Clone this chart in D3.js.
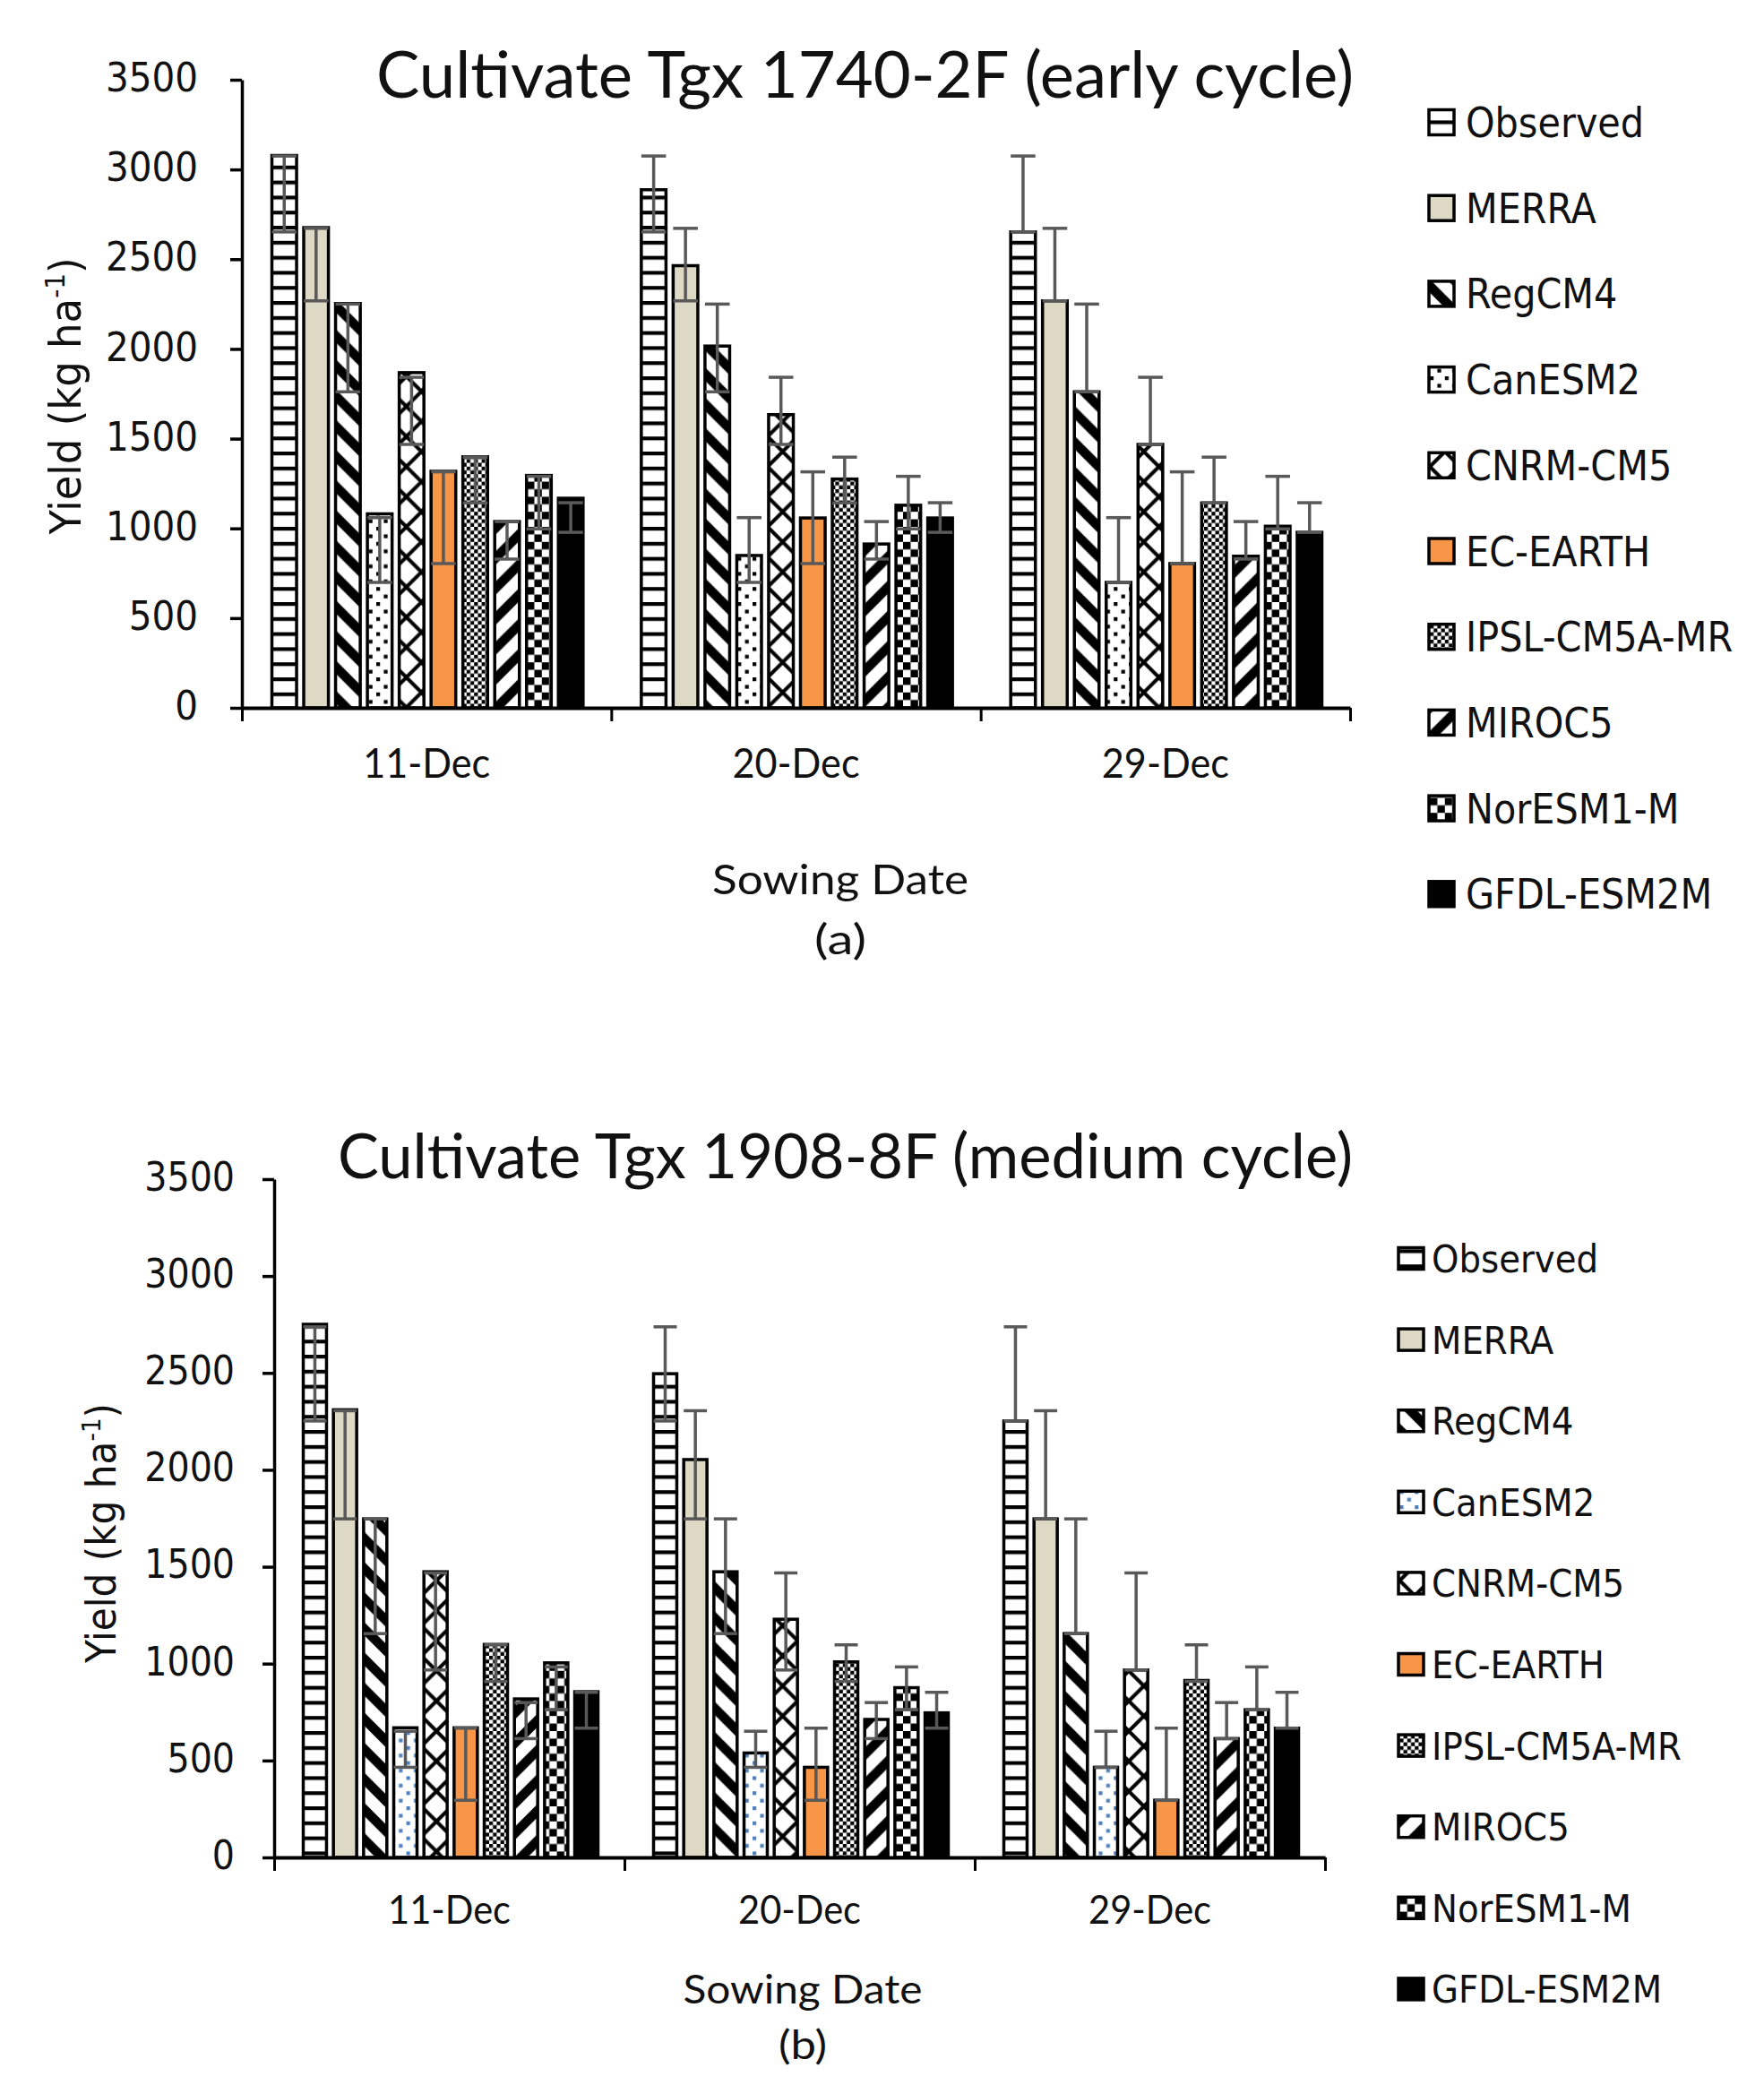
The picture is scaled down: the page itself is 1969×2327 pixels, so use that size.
<!DOCTYPE html>
<html><head><meta charset="utf-8">
<script src="https://cdn.jsdelivr.net/npm/d3@7/dist/d3.min.js"></script>
<style>body{margin:0;background:#fff}svg{display:block}</style>
</head><body>
<svg id="c" width="1969" height="2327"></svg>
<script>
// ---------------- DATA ----------------
const dates = ["11-Dec", "20-Dec", "29-Dec"];
const models = ["Observed", "MERRA", "RegCM4", "CanESM2", "CNRM-CM5", "EC-EARTH", "IPSL-CM5A-MR", "MIROC5", "NorESM1-M", "GFDL-ESM2M"];
const yTicks = [0, 500, 1000, 1500, 2000, 2500, 3000, 3500];

// (a) Tgx 1740-2F, yield per model for [11-Dec, 20-Dec, 29-Dec]
const earlyYield = [
  [3078, 2887, 2652],
  [2676, 2464, 2268],
  [2253, 2016, 1761],
  [1081, 849, 699],
  [1868, 1634, 1468],
  [1318, 1058, 804],
  [1399, 1275, 1142],
  [1038, 913, 845],
  [1295, 1129, 1012],
  [1168, 1058, 978]
];
const earlyErrLow  = [2652, 2268, 1761, 699, 1468, 804, 1142, 829, 997, 978];
const earlyErrHigh = [3075, 2672, 2250, 1060, 1842, 1315, 1397, 1038, 1290, 1143];

// (b) Tgx 1908-8F
const mediumYield = [
  [2751, 2496, 2252],
  [2310, 2053, 1747],
  [1747, 1474, 1155],
  [669, 539, 465],
  [1474, 1229, 967],
  [669, 465, 295],
  [1099, 1009, 913],
  [818, 712, 613],
  [1004, 876, 762],
  [855, 746, 667]
];
const mediumErrLow  = [2252, 1747, 1155, 465, 967, 295, 908, 613, 762, 667];
const mediumErrHigh = [2738, 2305, 1747, 651, 1468, 667, 1097, 799, 983, 852];

// ---------------- STYLE ----------------
const svg = d3.select("#c");
const defs = svg.append("defs");
const u = 4.2;
const INK = "#111";
const TAHOMA = "'DejaVu Sans Condensed','DejaVu Sans',sans-serif";
const CALIBRI = "Lato,'Open Sans',sans-serif";

function pat(id, w, h, draw) {
  const p = defs.append("pattern").attr("id", id).attr("patternUnits", "userSpaceOnUse")
    .attr("width", w).attr("height", h);
  p.append("rect").attr("width", w).attr("height", h).attr("fill", "#fff");
  draw(p);
}
// Observed: narrow horizontal
pat("pObs", 4*u, 4*u, p => p.append("rect").attr("y", 0).attr("width", 4*u).attr("height", u).attr("fill", "#000"));
// RegCM4: wide downward diagonal
pat("pReg", 8*u, 8*u, p => {
  const S = 8*u;
  [-S, 0, S].forEach(o => p.append("line").attr("x1", o - S).attr("y1", -S).attr("x2", o + 2*S).attr("y2", 2*S)
    .attr("stroke", "#000").attr("stroke-width", 2.5*u));
});
// MIROC5: wide upward diagonal
pat("pMir", 8*u, 8*u, p => {
  const S = 8*u;
  [-S, 0, S].forEach(o => p.append("line").attr("x1", o - S).attr("y1", 2*S).attr("x2", o + 2*S).attr("y2", -S)
    .attr("stroke", "#000").attr("stroke-width", 2.5*u));
});
// CanESM2: dotted
function dots(id, col) {
  pat(id, 4*u, 4*u, p => {
    p.append("rect").attr("x", 0).attr("y", 0).attr("width", u).attr("height", u).attr("fill", col);
    p.append("rect").attr("x", 2*u).attr("y", 2*u).attr("width", u).attr("height", u).attr("fill", col);
  });
}
dots("pCanA", "#000");
dots("pCanB", "#4F81BD");
// CNRM-CM5: thin diagonal cross
pat("pCn", 8*u, 8*u, p => {
  const S = 8*u;
  [[0,0,S,S],[S,0,0,S],[-S/2,S/2,S/2,-S/2*1],[S/2,S*1.5,S*1.5,S/2]].forEach(d => {});
  [[-S,0,S,2*S],[0,-S,2*S,S],[-S,-S,S,S],[0,0,2*S,2*S]].forEach(d =>
    p.append("line").attr("x1", d[0]).attr("y1", d[1]).attr("x2", d[2]).attr("y2", d[3]).attr("stroke", "#000").attr("stroke-width", 0.9*u));
  [[-S,S,S,-S],[0,2*S,2*S,0],[-S,2*S,S,0],[0,S,S,0]].forEach(d =>
    p.append("line").attr("x1", d[0]).attr("y1", d[1]).attr("x2", d[2]).attr("y2", d[3]).attr("stroke", "#000").attr("stroke-width", 0.9*u));
});
// IPSL: small checker
pat("pIp", 2*u, 2*u, p => {
  p.append("rect").attr("width", u).attr("height", u).attr("fill", "#000");
  p.append("rect").attr("x", u).attr("y", u).attr("width", u).attr("height", u).attr("fill", "#000");
});
// NorESM: larger checker
pat("pNo", 4*u, 4*u, p => {
  p.append("rect").attr("width", 2*u).attr("height", 2*u).attr("fill", "#000");
  p.append("rect").attr("x", 2*u).attr("y", 2*u).attr("width", 2*u).attr("height", 2*u).attr("fill", "#000");
});

function fills(canId) {
  return ["url(#pObs)", "#DDD9C4", "url(#pReg)", `url(#${canId})`, "url(#pCn)", "#F79646", "url(#pIp)", "url(#pMir)", "url(#pNo)", "#000"];
}

// ---------------- CHART ----------------
function drawChart(c) {
  const g = svg.append("g");
  const x = d3.scaleBand().domain(dates).range([c.x0, c.x1]).paddingInner(0).paddingOuter(0);
  const inner = d3.scaleBand().domain(models).range([c.padL, x.bandwidth() - c.padR]).paddingInner(0.14).paddingOuter(0);
  const y = d3.scaleLinear().domain([0, 3500]).range([c.y0, c.y1]);
  const fill = fills(c.canId);
  const bw = inner.bandwidth();

  // bars
  models.forEach((m, i) => {
    g.append("g").selectAll("rect").data(dates.map((d, j) => ({ d, v: c.values[i][j] })))
      .join("rect")
      .attr("x", e => x(e.d) + inner(m) + 1.5)
      .attr("y", e => y(e.v))
      .attr("width", bw - 3)
      .attr("height", e => y(0) - y(e.v))
      .attr("fill", fill[i])
      .attr("stroke", "#000").attr("stroke-width", 3.5);
  });
  // error bars
  models.forEach((m, i) => {
    const eg = g.append("g").attr("stroke", "#595959").attr("stroke-width", 3.5).attr("fill", "none");
    dates.forEach(d => {
      const cx = x(d) + inner(m) + bw / 2;
      const lo = y(c.errLow[i]), hi = y(c.errHigh[i]);
      const hw = bw / 2 - 1.5;
      eg.append("line").attr("x1", cx).attr("x2", cx).attr("y1", lo).attr("y2", hi);
      eg.append("line").attr("x1", cx - hw).attr("x2", cx + hw).attr("y1", lo).attr("y2", lo);
      eg.append("line").attr("x1", cx - hw).attr("x2", cx + hw).attr("y1", hi).attr("y2", hi);
    });
  });

  // y axis
  const ya = g.append("g").attr("transform", `translate(${c.x0},0)`)
    .call(d3.axisLeft(y).tickValues(yTicks).tickSize(13).tickSizeOuter(0).tickPadding(c.yPad).tickFormat(d3.format("d")));
  ya.select(".domain").attr("stroke", "#000").attr("stroke-width", 3.5);
  ya.selectAll(".tick line").attr("stroke", "#000").attr("stroke-width", 3.5);
  ya.selectAll(".tick text").attr("font-family", TAHOMA).attr("font-size", c.tickFs).attr("fill", INK).attr("dy", "0.28em");

  // x axis: labels at centres, ticks at boundaries
  const xa = g.append("g").attr("transform", `translate(0,${c.y0})`)
    .call(d3.axisBottom(x).tickSize(0).tickSizeOuter(0));
  xa.select(".domain").remove();
  xa.selectAll(".tick text").attr("font-family", CALIBRI).attr("font-size", c.xFs).attr("fill", INK)
    .attr("y", c.xLabY - c.y0).attr("dy", null).attr("textLength", c.xLabW).attr("lengthAdjust", "spacingAndGlyphs");
  const xb = d3.scaleLinear().domain([0, dates.length]).range([c.x0, c.x1]);
  const xt = g.append("g").attr("transform", `translate(0,${c.y0})`)
    .call(d3.axisBottom(xb).tickValues(d3.range(dates.length + 1)).tickSize(15).tickSizeOuter(0).tickFormat(""));
  xt.select(".domain").attr("stroke", "#000").attr("stroke-width", 4);
  xt.selectAll(".tick line").attr("stroke", "#000").attr("stroke-width", 3);

  // title
  g.append("text").attr("x", c.titleX).attr("y", c.titleY).text(c.title)
    .attr("font-family", CALIBRI).attr("font-size", c.titleFs).attr("fill", INK)
    .attr("textLength", c.titleW).attr("lengthAdjust", "spacingAndGlyphs");
  // axis titles
  g.append("text").attr("x", c.sowX).attr("y", c.sowY).attr("text-anchor", "middle").text("Sowing Date")
    .attr("font-family", CALIBRI).attr("font-size", c.sowFs).attr("fill", INK)
    .attr("textLength", c.sowW).attr("lengthAdjust", "spacingAndGlyphs");
  g.append("text").attr("x", c.sowX).attr("y", c.letY).attr("text-anchor", "middle").text(c.letter)
    .attr("font-family", CALIBRI).attr("font-size", c.sowFs).attr("fill", INK)
    .attr("textLength", c.letW).attr("lengthAdjust", "spacingAndGlyphs");
  const yl = g.append("text").attr("transform", `translate(${c.ylX},${c.ylY}) rotate(-90)`)
    .attr("text-anchor", "middle").attr("font-family", TAHOMA).attr("font-size", c.ylFs).attr("fill", INK)
    .attr("textLength", c.ylW).attr("lengthAdjust", "spacingAndGlyphs");
  yl.append("tspan").text("Yield (kg ha");
  yl.append("tspan").text("-1").attr("font-size", c.ylFs * 0.62).attr("dy", -c.ylFs * 0.38);
  yl.append("tspan").text(")").attr("dy", c.ylFs * 0.38);

  // legend
  const lg = g.append("g");
  models.forEach((m, i) => {
    const cy = c.legY + i * c.legStep;
    lg.append("rect").attr("x", c.legX).attr("y", cy - c.legH / 2).attr("width", c.legW).attr("height", c.legH)
      .attr("fill", fill[i]).attr("stroke", "#000").attr("stroke-width", 3.5);
    lg.append("text").attr("x", c.legTX).attr("y", cy + c.legFs * 0.36).text(m)
      .attr("font-family", TAHOMA).attr("font-size", c.legFs).attr("fill", INK);
  });
}

drawChart({
  values: earlyYield, errLow: earlyErrLow, errHigh: earlyErrHigh, canId: "pCanA",
  title: "Cultivate Tgx 1740-2F (early cycle)", letter: "(a)",
  x0: 270, x1: 1507, y0: 790, y1: 89, padL: 32, padR: 30,
  yPad: 36, tickFs: 45, xFs: 47, xLabY: 868, xLabW: 142,
  titleX: 420, titleY: 109, titleFs: 71, titleW: 1091,
  sowX: 938, sowY: 998, sowFs: 46, sowW: 286, letY: 1065, letW: 58,
  ylX: 90, ylY: 442, ylFs: 48, ylW: 309,
  legX: 1595, legW: 28, legH: 28, legTX: 1636, legY: 136.5, legStep: 95.7, legFs: 46
});
drawChart({
  values: mediumYield, errLow: mediumErrLow, errHigh: mediumErrHigh, canId: "pCanB",
  title: "Cultivate Tgx 1908-8F (medium cycle)", letter: "(b)",
  x0: 306, x1: 1479, y0: 2073, y1: 1316, padL: 31, padR: 28,
  yPad: 31, tickFs: 44, xFs: 45, xLabY: 2147, xLabW: 137,
  titleX: 377, titleY: 1315, titleFs: 69, titleW: 1133,
  sowX: 896, sowY: 2236, sowFs: 44, sowW: 267, letY: 2298, letW: 54,
  ylX: 129, ylY: 1711, ylFs: 46, ylW: 290,
  legX: 1561, legW: 28, legH: 24, legTX: 1598, legY: 1404.5, legStep: 90.6, legFs: 43
});
</script>
</body></html>
